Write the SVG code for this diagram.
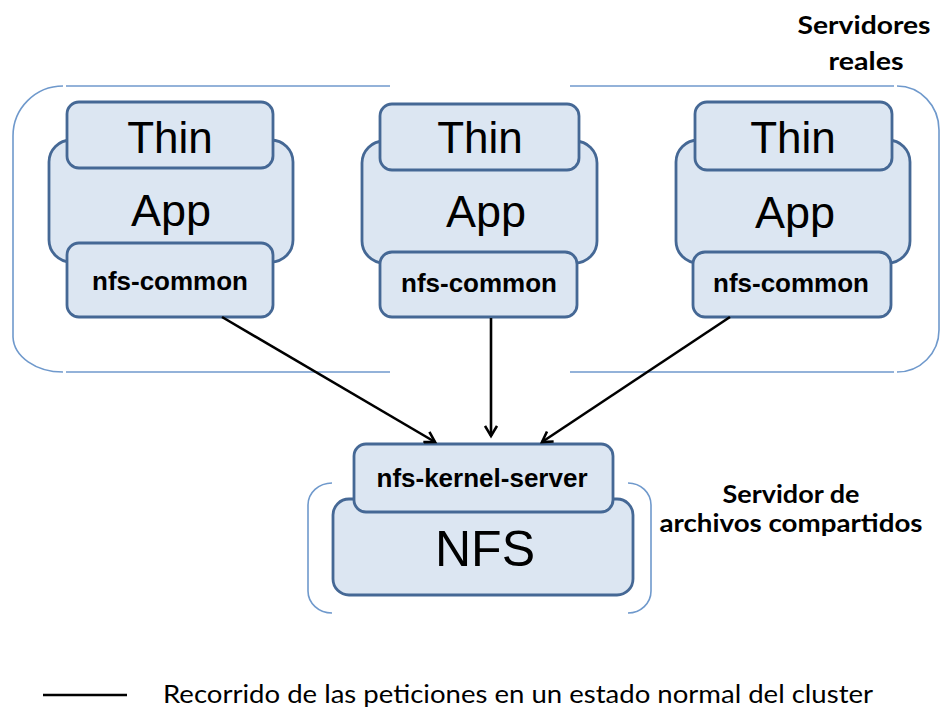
<svg xmlns="http://www.w3.org/2000/svg" width="940" height="713" viewBox="0 0 940 713">
<style>
.box{fill:#dce6f2;stroke:#456895;stroke-width:2.8}
.frame{fill:none;stroke:#6f99cc;stroke-width:1.6}
.big{font-family:"Liberation Sans",Arial,sans-serif;fill:#000;text-anchor:middle}
.small{font-family:"Liberation Sans",Arial,sans-serif;font-weight:bold;font-size:26px;fill:#000;text-anchor:middle}
.lab{font-family:Lato,"Open Sans",sans-serif;font-weight:bold;fill:#000;text-anchor:middle}
.conn{stroke:#000;stroke-width:2.6;fill:none}
</style>
<defs>
<marker id="arr" markerWidth="14" markerHeight="14" refX="11" refY="7" orient="auto" markerUnits="userSpaceOnUse">
<path d="M1,1 L11,7 L1,13" fill="none" stroke="#000" stroke-width="2.6"/>
</marker>
</defs>
<rect width="940" height="713" fill="#fff"/>
<g id="frame-servidores">
<path class="frame" d="M63,86 A50,50 0 0 0 13,136 L13,337 A50,36 0 0 0 63,372"/>
<line class="frame" x1="66" y1="86" x2="390" y2="86"/>
<line class="frame" x1="570" y1="86" x2="894" y2="86"/>
<line class="frame" x1="66" y1="372" x2="390" y2="372"/>
<line class="frame" x1="570" y1="372" x2="894" y2="372"/>
<path class="frame" d="M897,86 A42,44 0 0 1 939,130 L939,330 A42,42 0 0 1 897,372"/>
</g>
<g id="label-servidores">
<text class="lab" x="864" y="34" font-size="24" textLength="133" lengthAdjust="spacingAndGlyphs">Servidores</text>
<text class="lab" x="866" y="70" font-size="24" textLength="75" lengthAdjust="spacingAndGlyphs">reales</text>
</g>
<g id="node-left">
<rect class="box" x="49" y="140" width="244" height="122" rx="22"/>
<rect class="box" x="67" y="102" width="206" height="66" rx="12"/>
<rect class="box" x="67" y="243" width="206" height="74" rx="12"/>
<text class="big" x="170" y="153" font-size="44">Thin</text>
<text class="big" x="171" y="226" font-size="45">App</text>
<text class="small" x="170" y="290">nfs-common</text>
</g>
<g id="node-middle">
<rect class="box" x="362" y="141" width="235" height="122" rx="22"/>
<rect class="box" x="380" y="104" width="199" height="66" rx="12"/>
<rect class="box" x="380" y="252" width="197" height="65" rx="12"/>
<text class="big" x="480" y="153" font-size="44">Thin</text>
<text class="big" x="486" y="227" font-size="45">App</text>
<text class="small" x="479" y="292">nfs-common</text>
</g>
<g id="node-right">
<rect class="box" x="676" y="140" width="234" height="123" rx="22"/>
<rect class="box" x="695" y="102" width="197" height="68" rx="12"/>
<rect class="box" x="693" y="252" width="198" height="65" rx="12"/>
<text class="big" x="793" y="153" font-size="44">Thin</text>
<text class="big" x="795" y="228" font-size="45">App</text>
<text class="small" x="791" y="292">nfs-common</text>
</g>
<g id="frame-nfs">
<path class="frame" d="M332,483 A24,22 0 0 0 308,505 L308,591 A24,22 0 0 0 332,613"/>
<path class="frame" d="M628,483 A23,22 0 0 1 651,505 L651,591 A23,22 0 0 1 628,613"/>
</g>
<g id="node-nfs">
<rect class="box" x="333" y="499" width="300" height="96" rx="16"/>
<rect class="box" x="354" y="444" width="259" height="68" rx="12"/>
<text class="small" x="482" y="487">nfs-kernel-server</text>
<text class="big" x="485" y="566" font-size="50">NFS</text>
</g>
<g id="label-nfs">
<text class="lab" x="791" y="503" font-size="24" textLength="137" lengthAdjust="spacingAndGlyphs">Servidor de</text>
<text class="lab" x="791" y="532" font-size="24" textLength="263" lengthAdjust="spacingAndGlyphs">archivos compartidos</text>
</g>
<g id="connectors">
<line class="conn" x1="222" y1="317" x2="435" y2="442" marker-end="url(#arr)"/>
<line class="conn" x1="491" y1="318" x2="491" y2="436" marker-end="url(#arr)"/>
<line class="conn" x1="730" y1="317" x2="542" y2="442" marker-end="url(#arr)"/>
</g>
<g id="legend">
<line x1="43" y1="695" x2="127" y2="695" stroke="#000" stroke-width="2.6"/>
<text x="163" y="703" font-family="Lato,'Open Sans',sans-serif" font-size="25" fill="#000" textLength="710" lengthAdjust="spacingAndGlyphs">Recorrido de las peticiones en un estado normal del cluster</text>
</g>
</svg>
